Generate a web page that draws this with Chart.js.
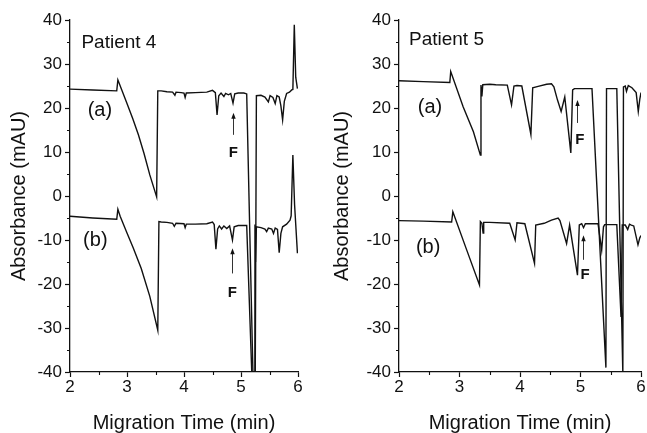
<!DOCTYPE html>
<html>
<head>
<meta charset="utf-8">
<script src="https://cdn.jsdelivr.net/npm/chart.js@4.4.1/dist/chart.umd.min.js"></script>
<style>
  html, body { margin: 0; padding: 0; background: #fff; }
  #wrap { position: relative; width: 647px; height: 433px; overflow: hidden; }
  .panel { position: absolute; top: 0; height: 433px; }
</style>
</head>
<body>
<div id="wrap">
  <div class="panel" style="left:0;width:323px"><canvas id="p4" width="323" height="433"></canvas></div>
  <div class="panel" style="left:323px;width:324px"><canvas id="p5" width="324" height="433"></canvas></div>
</div>
<script>
// Electropherograms (migration time in min, absorbance in mAU)
const p4aTime = [2.00, 2.40, 2.82, 2.84, 2.90, 3.00, 3.10, 3.20, 3.30, 3.40, 3.52, 3.54, 3.60, 3.70, 3.80, 3.84, 3.86, 3.95, 4.00, 4.02, 4.04, 4.20, 4.40, 4.50, 4.55, 4.58, 4.61, 4.65, 4.70, 4.73, 4.78, 4.82, 4.86, 4.89, 4.95, 5.05, 5.10, 5.21, 5.25, 5.27, 5.35, 5.42, 5.48, 5.51, 5.56, 5.60, 5.63, 5.67, 5.70, 5.73, 5.76, 5.80, 5.85, 5.89, 5.91, 5.935, 5.96, 5.99];
const p4aAbs  = [24.3, 24.1, 23.9, 26.4, 24.4, 21.0, 17.6, 13.9, 9.6, 4.8, -0.2, 23.9, 23.9, 23.7, 23.6, 22.9, 23.6, 23.5, 23.4, 22.4, 23.4, 23.5, 23.6, 24.0, 23.5, 18.4, 22.8, 23.4, 22.6, 23.3, 23.0, 23.3, 21.1, 23.2, 23.4, 23.4, 23.2, -40.5, -40.5, 22.8, 22.9, 22.5, 21.4, 22.8, 22.4, 21.0, 22.8, 22.5, 20.5, 17.3, 21.5, 23.3, 23.6, 24.1, 24.2, 38.9, 27.0, 24.4];

const p4bTime = [2.00, 2.40, 2.82, 2.84, 2.88, 3.00, 3.11, 3.25, 3.40, 3.54, 3.56, 3.60, 3.70, 3.80, 3.83, 3.86, 4.00, 4.02, 4.04, 4.20, 4.40, 4.50, 4.53, 4.56, 4.59, 4.62, 4.66, 4.70, 4.75, 4.80, 4.85, 4.88, 4.95, 5.10, 5.19, 5.23, 5.245, 5.255, 5.27, 5.35, 5.42, 5.45, 5.48, 5.54, 5.57, 5.60, 5.64, 5.67, 5.70, 5.73, 5.80, 5.86, 5.88, 5.91, 5.94, 5.99];
const p4bAbs  = [-4.6, -5.0, -5.3, -3.0, -4.6, -8.4, -11.8, -16.5, -22.8, -30.5, -5.8, -5.9, -6.0, -6.2, -6.9, -6.2, -6.3, -7.2, -6.4, -6.4, -6.3, -5.9, -6.5, -12.1, -7.5, -6.8, -7.5, -6.8, -7.4, -6.8, -10.0, -7.0, -6.7, -6.7, -40.5, -40.5, -6.5, -15.0, -7.0, -7.2, -7.5, -8.1, -7.3, -7.5, -8.5, -7.3, -7.6, -12.9, -8.5, -7.0, -6.4, -5.5, -4.5, 9.3, -2.0, -13.0];

const p5aTime = [2.00, 2.40, 2.84, 2.855, 3.06, 3.23, 3.345, 3.355, 3.37, 3.385, 3.50, 3.60, 3.79, 3.86, 3.90, 3.95, 4.03, 4.18, 4.21, 4.30, 4.44, 4.52, 4.56, 4.62, 4.68, 4.74, 4.84, 4.87, 4.90, 5.05, 5.19, 5.42, 5.43, 5.50, 5.60, 5.70, 5.71, 5.74, 5.76, 5.79, 5.85, 5.92, 5.955, 5.98, 6.00];
const p5aAbs  = [26.2, 26.0, 25.8, 28.3, 20.3, 14.6, 9.3, 25.2, 22.6, 25.3, 25.4, 25.3, 25.2, 20.7, 25.0, 25.1, 25.0, 14.0, 24.6, 24.9, 25.4, 25.5, 24.8, 21.8, 19.2, 22.5, 9.8, 24.1, 24.4, 24.4, 24.4, -39.0, 24.4, 24.4, 24.4, -40.5, 24.8, 25.0, 23.8, 25.1, 24.6, 23.5, 19.2, 22.0, 23.5];

const p5bTime = [2.00, 2.40, 2.87, 2.89, 3.12, 3.33, 3.345, 3.37, 3.39, 3.40, 3.50, 3.83, 3.92, 3.95, 4.08, 4.24, 4.26, 4.40, 4.52, 4.63, 4.66, 4.77, 4.82, 4.95, 4.98, 5.02, 5.05, 5.08, 5.29, 5.35, 5.38, 5.40, 5.60, 5.67, 5.69, 5.74, 5.78, 5.81, 5.84, 5.88, 5.95, 5.98, 6.00];
const p5bAbs  = [-5.6, -5.7, -5.9, -3.6, -12.3, -20.2, -5.8, -6.2, -8.4, -6.0, -6.0, -6.2, -10.0, -6.1, -6.3, -15.3, -6.6, -6.2, -5.5, -5.0, -5.6, -10.8, -6.6, -18.0, -6.6, -6.3, -7.2, -6.3, -6.3, -12.3, -7.0, -6.5, -6.5, -27.5, -6.6, -6.6, -7.6, -6.4, -6.6, -6.8, -11.1, -9.5, -9.0];

const timeTicks = [2, 3, 4, 5, 6];
const absTicks = [-40, -30, -20, -10, 0, 10, 20, 30, 40];
const timeMinor = [2.5, 3.5, 4.5, 5.5];
const absMinor = [-35, -25, -15, -5, 5, 15, 25, 35];

// Text and arrow annotations in data coordinates
const p4Notes = {
  labels: [
    { text: 'Patient 4', x: 2.20, y: 34.8, size: 19 },
    { text: '(a)', x: 2.31, y: 19.5, size: 20 },
    { text: '(b)', x: 2.23, y: -10.2, size: 20 },
    { text: 'F', x: 4.865, y: 9.8, size: 15, bold: true, align: 'center' },
    { text: 'F', x: 4.85, y: -22.0, size: 15, bold: true, align: 'center' },
  ],
  arrows: [
    { x: 4.865, from: 13.9, to: 18.9 },
    { x: 4.85, from: -17.6, to: -11.9 },
  ],
};
const p5Notes = {
  labels: [
    { text: 'Patient 5', x: 2.165, y: 35.5, size: 19 },
    { text: '(a)', x: 2.31, y: 20.2, size: 20 },
    { text: '(b)', x: 2.28, y: -11.8, size: 20 },
    { text: 'F', x: 4.99, y: 12.7, size: 15, bold: true, align: 'center' },
    { text: 'F', x: 5.074, y: -18.0, size: 15, bold: true, align: 'center' },
  ],
  arrows: [
    { x: 4.947, from: 16.6, to: 21.8 },
    { x: 5.046, from: -14.5, to: -8.9 },
  ],
};

const INK = '#111';
const FAMILY = '"Liberation Sans", Arial, Helvetica, sans-serif';

const panelNotes = {
  id: 'panelNotes',
  afterDatasetsDraw(chart, args, opts) {
    const { ctx } = chart;
    const x = chart.scales.x, y = chart.scales.y;
    ctx.save();
    ctx.fillStyle = INK;
    ctx.strokeStyle = '#333';
    (opts.labels || []).forEach(l => {
      ctx.font = (l.bold ? 'bold ' : '') + l.size + 'px ' + FAMILY;
      ctx.textAlign = l.align || 'left';
      ctx.textBaseline = 'middle';
      ctx.fillText(l.text, x.getPixelForValue(l.x), y.getPixelForValue(l.y));
    });
    (opts.arrows || []).forEach(a => {
      const px = Math.round(x.getPixelForValue(a.x)) + 0.5;
      const tail = y.getPixelForValue(a.from);
      const head = y.getPixelForValue(a.to);
      ctx.lineWidth = 1;
      ctx.beginPath();
      ctx.moveTo(px, tail);
      ctx.lineTo(px, head + 4);
      ctx.stroke();
      ctx.beginPath();
      ctx.moveTo(px, head);
      ctx.lineTo(px - 2.2, head + 6);
      ctx.lineTo(px + 2.2, head + 6);
      ctx.closePath();
      ctx.fill();
    });
    ctx.restore();
  },
  afterDraw(chart) {
    // minor ticks (shorter, pointing outwards)
    const { ctx, chartArea } = chart;
    const x = chart.scales.x, y = chart.scales.y;
    ctx.save();
    ctx.strokeStyle = INK;
    ctx.lineWidth = 1.1;
    ctx.beginPath();
    absMinor.forEach(v => {
      const py = Math.round(y.getPixelForValue(v)) + 0.5;
      ctx.moveTo(chartArea.left - 3, py);
      ctx.lineTo(chartArea.left, py);
    });
    timeMinor.forEach(v => {
      const px = Math.round(x.getPixelForValue(v)) + 0.5;
      ctx.moveTo(px, chartArea.bottom);
      ctx.lineTo(px, chartArea.bottom + 3);
    });
    ctx.stroke();
    ctx.restore();
  },
};

function series(times, values) {
  return times.map((t, i) => ({ x: t, y: values[i] }));
}

function buildPanel(canvasId, traces, notes, yWidth, rightPad) {
  const ctx = document.getElementById(canvasId).getContext('2d');
  const axisFont = { family: FAMILY, size: 20, lineHeight: 1 };
  const tickFont = { family: FAMILY, size: 17 };
  return new Chart(ctx, {
    type: 'line',
    data: {
      datasets: traces.map(tr => ({
        data: series(tr[0], tr[1]),
        borderColor: INK,
        borderWidth: 1.4,
        pointRadius: 0,
        tension: 0,
        fill: false,
      })),
    },
    options: {
      responsive: false,
      animation: false,
      layout: { padding: { top: 20, right: rightPad, bottom: 0, left: 0 } },
      plugins: {
        legend: { display: false },
        tooltip: { enabled: false },
        panelNotes: notes,
      },
      scales: {
        x: {
          type: 'linear',
          min: 2,
          max: 6,
          afterBuildTicks: s => { s.ticks = timeTicks.map(v => ({ value: v })); },
          afterFit: s => { s.height = 61; },
          border: { color: INK, width: 1.3 },
          grid: { drawOnChartArea: false, tickLength: 5, tickColor: INK, tickWidth: 1.2 },
          ticks: { color: INK, font: tickFont, padding: 0, maxRotation: 0 },
          title: { display: true, text: 'Migration Time (min)', color: INK, font: axisFont, padding: { top: 0, bottom: 0 } },
        },
        y: {
          min: -40,
          max: 40,
          afterBuildTicks: s => { s.ticks = absTicks.map(v => ({ value: v })); },
          afterFit: s => { s.width = yWidth; },
          border: { color: INK, width: 1.3 },
          grid: { drawOnChartArea: false, tickLength: 5, tickColor: INK, tickWidth: 1.2 },
          ticks: { color: INK, font: tickFont, padding: 3 },
          title: { display: true, text: 'Absorbance (mAU)', color: INK, font: axisFont, padding: { top: 9, bottom: 0 } },
        },
      },
    },
    plugins: [panelNotes],
  });
}

buildPanel('p4', [[p4aTime, p4aAbs], [p4bTime, p4bAbs]], p4Notes, 70, 25);
buildPanel('p5', [[p5aTime, p5aAbs], [p5bTime, p5bAbs]], p5Notes, 76, 6);
</script>
</body>
</html>
